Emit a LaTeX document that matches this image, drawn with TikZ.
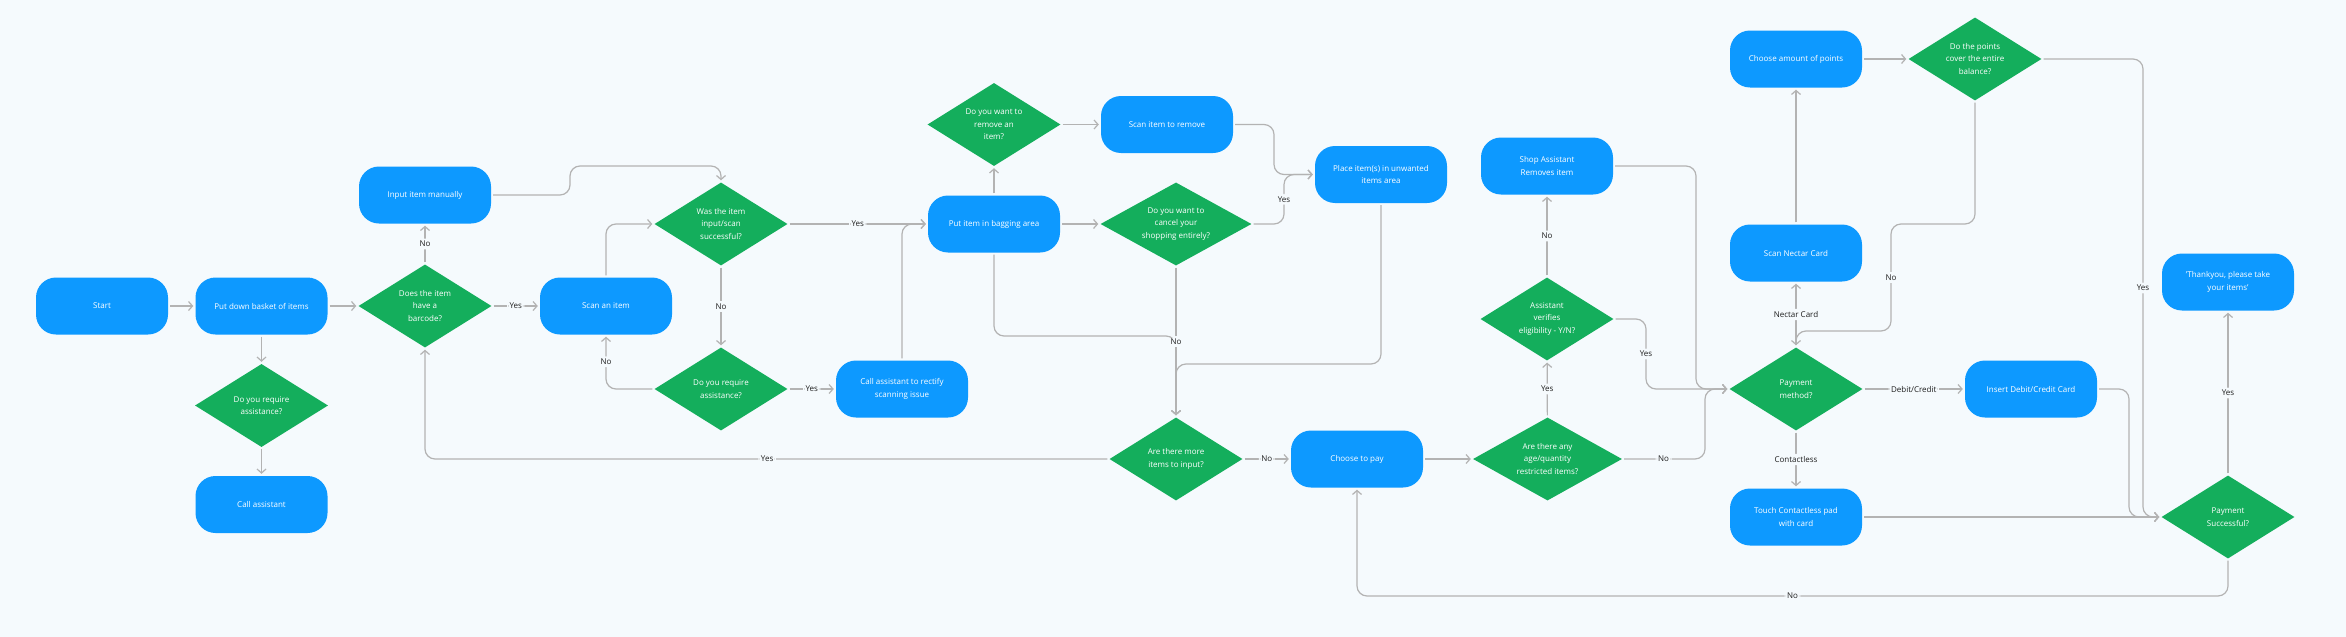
\documentclass[tikz,border=0pt]{standalone}
\usepackage{fontspec}
\setmainfont{Open Sans}
\usepackage{tikz}
\usetikzlibrary{shapes.geometric, arrows.meta}
\usepackage{xcolor}
\definecolor{FlowBlue}{HTML}{0D99FF}
\definecolor{FlowGreen}{HTML}{14AE5C}
\definecolor{FlowLine}{HTML}{B3B3B3}
\definecolor{FlowText}{HTML}{1E1E1E}
\definecolor{FlowBack}{HTML}{F5FAFD}

\begin{document}
\begin{tikzpicture}[x=1pt, y=-1pt, font=\fontsize{8}{12.5}\selectfont,
    box/.style={fill=FlowBlue, text=white, rounded corners=20pt, minimum width=132pt, minimum height=57pt, inner sep=0pt, align=center},
    decision/.style={diamond, fill=FlowGreen, text=white, shape aspect=1.6, minimum width=133pt, minimum height=83pt, inner sep=0pt, align=center},
    wire/.style={draw=FlowLine, line width=1.2pt, rounded corners=10pt, shorten >=2pt, shorten <=2pt, -{Straight Barb[length=4pt, width=9pt]}},
    lbl/.style={fill=FlowBack, text=FlowText, inner sep=2.5pt}]
    \fill[FlowBack] (0,0) rectangle (2346,637);

    % scanning
    \node[box] (start) at (102,306) {Start};
    \node[box] (basket) at (261.5,306) {Put down basket of items};
    \node[decision] (assist1) at (261.5,405.5) {Do you require\\assistance?};
    \node[box] (callassist) at (261.5,504.5) {Call assistant};
    \node[decision] (barcode) at (425,306) {Does the item\\have a\\barcode?};
    \node[box] (manual) at (425,195) {Input item manually};
    \node[box] (scan) at (606,306) {Scan an item};
    \node[decision] (scanok) at (721,224) {Was the item\\input/scan\\successful?};
    \node[decision] (assist2) at (721,389) {Do you require\\assistance?};
    \node[box] (rectify) at (902,389) {Call assistant to rectify\\scanning issue};

    % bagging
    \node[box] (bagging) at (994,224) {Put item in bagging area};
    \node[decision] (removeq) at (994,124.5) {Do you want to\\remove an\\item?};
    \node[box] (scanremove) at (1167,124.5) {Scan item to remove};
    \node[decision, minimum width=151pt] (cancelq) at (1176,224) {Do you want to\\cancel your\\shopping entirely?};
    \node[box] (unwanted) at (1381,174.5) {Place item(s) in unwanted\\items area};
    \node[decision] (moreq) at (1176,459) {Are there more\\items to input?};
    \node[box] (pay) at (1357,459) {Choose to pay};

    % checks and payment
    \node[decision, minimum width=149pt] (ageq) at (1547.5,459) {Are there any\\age/quantity\\restricted items?};
    \node[decision] (verifyq) at (1547,319) {Assistant\\verifies\\eligibility - Y/N?};
    \node[box] (shopremove) at (1547,166) {Shop Assistant\\Removes item};
    \node[decision] (paymentq) at (1796,389) {Payment\\method?};
    \node[box] (nectar) at (1796,253) {Scan Nectar Card};
    \node[box] (points) at (1796,59) {Choose amount of points};
    \node[decision] (coverq) at (1975,59) {Do the points\\cover the entire\\balance?};
    \node[box] (contactless) at (1796,517) {Touch Contactless pad\\with card};
    \node[box] (insert) at (2031,389) {Insert Debit/Credit Card};
    \node[decision] (successq) at (2228,517) {Payment\\Successful?};
    \node[box] (thanks) at (2228,282) {'Thankyou, please take\\your items'};

    \draw[wire] (start) -- (basket);
    \draw[wire] (basket) -- (barcode);
    \draw[wire] (basket) -- (assist1);
    \draw[wire] (assist1) -- (callassist);
    \draw[wire] (barcode) -- node[lbl] {No} (manual);
    \draw[wire] (barcode) -- node[lbl] {Yes} (scan);
    \draw[wire] (manual.east) -- (570,195) -- (570,166) -| (scanok.north);
    \draw[wire] (scan.north) |- (scanok.west);
    \draw[wire] (scanok) -- node[lbl] {No} (assist2);
    \draw[wire] (assist2.west) -| node[lbl, pos=0.75] {No} (scan.south);
    \draw[wire] (assist2) -- node[lbl] {Yes} (rectify);
    \draw[wire] (scanok) -- node[lbl] {Yes} (bagging);
    \draw[wire] (rectify.north) |- (bagging.west);
    \draw[wire] (moreq.west) -| node[lbl, pos=0.25] {Yes} (barcode.south);

    \draw[wire] (bagging) -- (removeq);
    \draw[wire] (removeq) -- (scanremove);
    \draw[wire] (bagging) -- (cancelq);
    \draw[wire] (scanremove.east) -- (1274,124.5) |- (unwanted.west);
    \draw[wire] (cancelq.east) -- (1284,224) -- node[lbl] {Yes} (1284,174.5) -- (unwanted.west);
    \draw[wire] (bagging.south) |- (1176,336) -- (moreq.north);
    \draw[wire] (cancelq) -- node[lbl] {No} (moreq);
    \draw[wire] (unwanted.south) |- (1176,364) -- (moreq.north);
    \draw[wire] (moreq) -- node[lbl] {No} (pay);

    \draw[wire] (pay) -- (ageq);
    \draw[wire] (ageq) -- node[lbl] {Yes} (verifyq);
    \draw[wire] (verifyq) -- node[lbl] {No} (shopremove);
    \draw[wire] (verifyq.east) -- (1646,319) -- node[lbl] {Yes} (1646,389) -- (paymentq.west);
    \draw[wire] (ageq.east) -- node[lbl] {No} (1705,459) |- (paymentq.west);
    \draw[wire] (shopremove.east) -| (1696,389) -- (paymentq.west);
    \draw[wire] (paymentq) -- node[lbl] {Nectar Card} (nectar);
    \draw[wire] (paymentq) -- node[lbl] {Contactless} (contactless);
    \draw[wire] (paymentq) -- node[lbl] {Debit/Credit} (insert);
    \draw[wire] (nectar) -- (points);
    \draw[wire] (points) -- (coverq);
    \draw[wire] (coverq.south) |- (1891,224) -- node[lbl] {No} (1891,331) -| (paymentq.north);
    \draw[wire] (coverq.east) -- (2143,59) -- node[lbl] {Yes} (2143,517) -- (successq.west);
    \draw[wire] (insert.east) -| (2129,517) -- (successq.west);
    \draw[wire] (contactless) -- (successq);
    \draw[wire] (successq) -- node[lbl] {Yes} (thanks);
    \draw[wire] (successq.south) -- (2228,596) -- node[lbl] {No} (1357,596) -- (pay.south);
\end{tikzpicture}
\end{document}
